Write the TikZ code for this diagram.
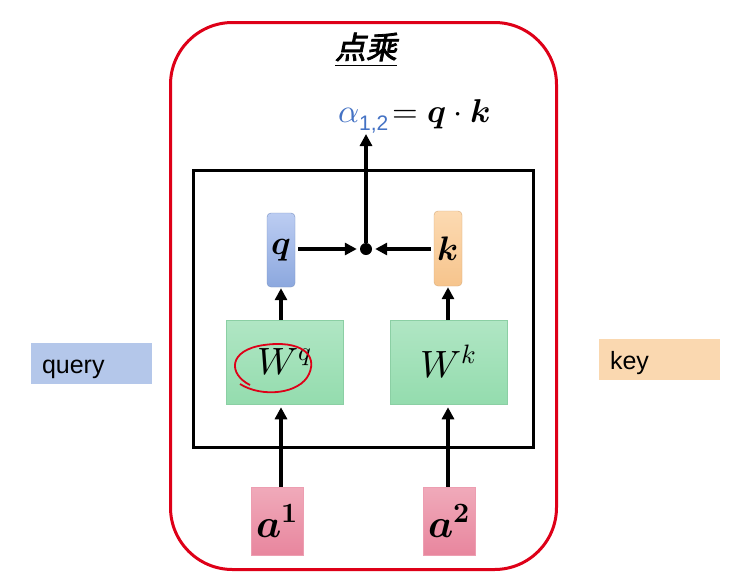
\documentclass[tikz,border=0pt]{standalone}
\usepackage{fontspec}
\usepackage{unicode-math}
\setmathfont{Latin Modern Math}
\newfontfamily\cjk[FakeSlant=0.2,FakeBold=2.5]{Noto Sans CJK SC}
\newfontfamily\lsans{Liberation Sans}
\usetikzlibrary{arrows.meta}
\definecolor{redline}{RGB}{222,0,24}
\definecolor{alphablue}{RGB}{68,114,196}
\definecolor{qtop}{RGB}{188,205,242}
\definecolor{qbot}{RGB}{140,168,222}
\definecolor{ktop}{RGB}{252,218,178}
\definecolor{kbot}{RGB}{246,196,140}
\definecolor{wtop}{RGB}{176,230,196}
\definecolor{wbot}{RGB}{148,220,174}
\definecolor{atop}{RGB}{240,170,186}
\definecolor{abot}{RGB}{232,134,158}
\definecolor{qlabel}{RGB}{180,199,234}
\definecolor{klabel}{RGB}{250,216,176}
\tikzset{
  arr/.style={line width=3.2pt,-{Triangle[length=12pt,width=12pt]}},
  vecbox/.style={rounded corners=4pt,minimum width=28pt,inner sep=0pt,font=\fontsize{34}{36}\selectfont},
  wbox/.style={draw=wbot!85!black!40!wbot,line width=0.5pt,top color=wtop,bottom color=wbot,minimum width=117pt,minimum height=84pt,inner sep=0pt,font=\fontsize{38}{40}\selectfont},
  abox/.style={draw=abot!80!white,line width=0.5pt,top color=atop,bottom color=abot,minimum width=52pt,minimum height=68pt,inner sep=0pt,font=\fontsize{40}{42}\selectfont},
  tag/.style={minimum height=41pt,minimum width=121pt,inner sep=0pt,text width=99pt,align=left,text height=20pt,text depth=0pt,font=\lsans\fontsize{25}{27}\selectfont}
}
\begin{document}
\begin{tikzpicture}[x=1pt,y=-1pt]
\useasboundingbox (0,0) rectangle (742,576);
\fill[white] (0,0) rectangle (742,576);
% outer red frame
\node[draw=redline,line width=3pt,rounded corners=62pt,minimum width=386pt,minimum height=547pt] (outer) at (363.5,296) {};
% title
\node (title) at (366,50) {\cjk\fontsize{31}{33}\selectfont\underline{点乘}};
% formula
\node (alpha) at (414,116) {\fontsize{33}{35}\selectfont$\textcolor{alphablue}{\alpha_{\text{\lsans\fontsize{21}{22}\selectfont 1,2}}}\!=\symbfit{q}\cdot\symbfit{k}$};
% inner black box
\node[draw=black,line width=3pt,minimum width=340pt,minimum height=277pt] (inner) at (363,308.5) {};
% q, k
\node[vecbox,draw=qbot!80!black!60!qbot,top color=qtop,bottom color=qbot,minimum height=74pt] (q) at (281,250) {$\symbfit{q}$};
\node[vecbox,draw=kbot!80!black!60!kbot,top color=ktop,bottom color=kbot,minimum height=75pt] (k) at (448,248.5) {$\symbfit{k}$};
\node[circle,fill=black,minimum size=12pt,inner sep=0pt] (dot) at (366,249) {};
\coordinate (atip) at (366,134);
% W boxes
\node[wbox] (wq) at (284.5,362) {$W^{q}$};
\node[wbox] (wk) at (448.5,362) {$W^{k}$};
% a boxes
\node[abox] (a1) at (277,521) {$\symbfit{a}^{\symbf{1}}$};
\node[abox] (a2) at (449,521) {$\symbfit{a}^{\symbf{2}}$};
% side tags
\node[tag,fill=qlabel] (query) at (91.5,363.5) {query};
\node[tag,fill=klabel] (key) at (659.5,359) {key};
% arrows
\draw[arr] (dot.north) -- (atip);
\draw[arr,shorten <=3pt,shorten >=3pt] (q.east |- dot) -- (dot.west);
\draw[arr,shorten <=3pt,shorten >=3pt] (k.west |- dot) -- (dot.east);
\draw[arr,shorten >=1pt] (wq.north -| q) -- (q.south);
\draw[arr,shorten >=1pt] (wk.north -| k) -- (k.south);
\draw[arr,shorten >=3pt] (a1.north -| 281,0) -- (wq.south -| 281,0);
\draw[arr,shorten >=3pt] (a2.north -| 448,0) -- (wk.south -| 448,0);
% hand-drawn red circle around W^q
\draw[redline,line width=1.8pt] (250,385) .. controls (228,374) and (228,350) .. (264,345)
  .. controls (300,340) and (318,354) .. (309,374)
  .. controls (300,394) and (262,398) .. (240,384);
\end{tikzpicture}
\end{document}
